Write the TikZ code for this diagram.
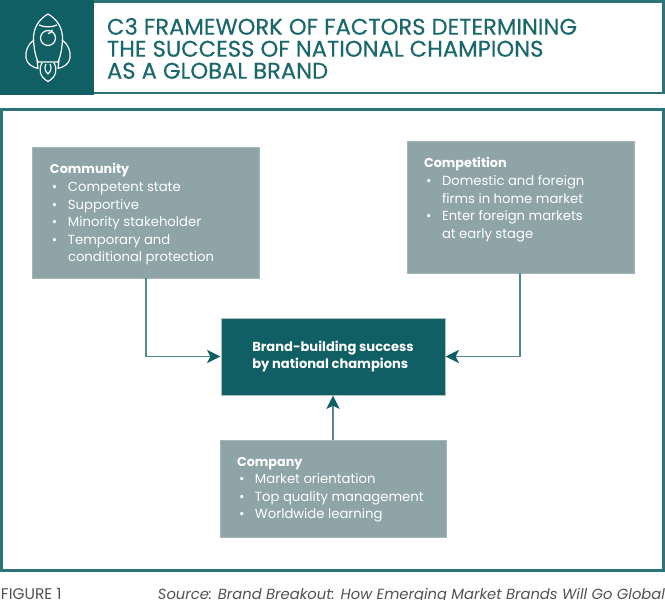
\documentclass[tikz,border=0pt]{standalone}
\usepackage{fontspec}
\setmainfont{Poppins}
\newfontfamily\titlefont[FakeBold=0.35]{Poppins}
\usetikzlibrary{arrows.meta}
\definecolor{teal1}{HTML}{0F5F64}
\definecolor{teal2}{HTML}{2B7478}
\definecolor{slate}{HTML}{8FA4A6}
\definecolor{arrowc}{HTML}{4F8A8D}
\definecolor{titlec}{HTML}{1A686C}
\newcommand{\hd}[1]{{\fontsize{9.6}{13.1}\selectfont\textbf{#1}}}
\tikzset{
  x=0.75pt,y=-0.75pt,
  every node/.style={outer sep=0pt},
  frame/.style={draw=teal2,line width=2.2pt,fill=white},
  panel/.style={fill=slate,draw=slate!80!white,line width=0.5pt},
  hub/.style={fill=teal1,draw=slate!70!white,line width=0.4pt},
  bodytxt/.style={anchor=north west,text=white,font=\fontsize{9.9}{13.1}\selectfont,align=left,inner sep=0pt},
  hubtxt/.style={anchor=center,text=white,font=\fontsize{9.8}{12.8}\selectfont\bfseries,align=left,inner sep=0pt},
  titletxt/.style={anchor=north west,text=titlec,font=\titlefont\fontsize{17}{16.5}\selectfont,align=left,inner sep=0pt},
  conn/.style={draw=arrowc,line width=1pt,-{Stealth[length=10pt,width=10pt,inset=2.5pt,color=teal1]},shorten >=0.5pt},
  icon/.style={draw=white,line width=0.9pt,line join=round},
  captxt/.style={inner sep=0pt,text=black!68}
}
\begin{document}
\begin{tikzpicture}
\useasboundingbox (0,0) rectangle (665,600);
\fill[white] (0,0) rectangle (665,600);
% header
\node[frame,inner sep=0pt,anchor=north west,minimum width=662*0.75pt,minimum height=91.5*0.75pt] (head) at (1.5,1.5) {};
\fill[teal1] (0,0) rectangle (94,95);
\node[titletxt] (title) at (107,18) {C3 FRAMEWORK OF FACTORS DETERMINING\\THE SUCCESS OF NATIONAL CHAMPIONS\\AS A GLOBAL BRAND};
% rocket
\draw[icon] (48,14) .. controls (39,19) and (33,28) .. (33.5,40) .. controls (34,48) and (35,55) .. (38,62) -- (58,62) .. controls (61,55) and (62,48) .. (62.5,40) .. controls (63,28) and (57,19) .. (48,14) -- cycle;
\draw[icon] (39,25) .. controls (44,27.5) and (52,27.5) .. (57,25);
\draw[icon] (48,38) circle (7.5);
\draw[icon] (48,33.5) arc (90:10:4.5);
\draw[icon] (34,40) .. controls (28,44) and (25,51) .. (26,58) .. controls (27,64) and (32,67) .. (38,68.5) -- (37,60);
\draw[icon] (62,40) .. controls (68,44) and (71,51) .. (70,58) .. controls (69,64) and (64,67) .. (58,68.5) -- (59,60);
\draw[icon] (42,63) .. controls (38,70) and (40,77) .. (48,81.5) .. controls (56,77) and (58,70) .. (54,63);
\draw[icon] (46,64) .. controls (44,68) and (45,71) .. (48,74) .. controls (51,71) and (52,68) .. (50,64);
% frame
\node[frame,anchor=north west,inner sep=0pt,minimum width=662*0.75pt,minimum height=461*0.75pt] (outer) at (1.5,109.5) {};
% boxes
\node[panel,anchor=north west,inner sep=0pt,minimum width=227*0.75pt,minimum height=131*0.75pt] (community) at (32,147) {};
\node[panel,anchor=north west,inner sep=0pt,minimum width=227*0.75pt,minimum height=132*0.75pt] (competition) at (407,141) {};
\node[panel,anchor=north west,inner sep=0pt,minimum width=226*0.75pt,minimum height=97*0.75pt] (company) at (220,440) {};
\node[hub,anchor=north west,inner sep=0pt,minimum width=224*0.75pt,minimum height=77*0.75pt] (hubbox) at (221,318) {};
% text
\node[bodytxt] (t1) at (50,163.5) {\hd{Community}\\[0.3pt]
\makebox[13.5pt][l]{\hspace{1.5pt}•}Competent state\\
\makebox[13.5pt][l]{\hspace{1.5pt}•}Supportive\\
\makebox[13.5pt][l]{\hspace{1.5pt}•}Minority stakeholder\\
\makebox[13.5pt][l]{\hspace{1.5pt}•}Temporary and\\
\makebox[13.5pt][l]{}conditional protection};
\node[bodytxt] (t2) at (424,157.5) {\hd{Competition}\\[0.3pt]
\makebox[13.5pt][l]{\hspace{1.5pt}•}Domestic and foreign\\
\makebox[13.5pt][l]{}firms in home market\\
\makebox[13.5pt][l]{\hspace{1.5pt}•}Enter foreign markets\\
\makebox[13.5pt][l]{}at early stage};
\node[bodytxt] (t3) at (237,457) {\hd{Company}\\[0.3pt]
\makebox[13.5pt][l]{\hspace{1.5pt}•}Market orientation\\
\makebox[13.5pt][l]{\hspace{1.5pt}•}Top quality management\\
\makebox[13.5pt][l]{\hspace{1.5pt}•}Worldwide learning};
\node[hubtxt] (t4) at (333,356.5) {Brand-building success\\by national champions};
% connectors
\coordinate (c1) at (146,278);
\coordinate (c2) at (520,273);
\draw[conn] (c1) |- (hubbox.west);
\draw[conn] (c2) |- (hubbox.east);
\draw[conn] (company.north -| hubbox.south) -- (hubbox.south);
% caption
\node[captxt,anchor=base west,font=\fontsize{11.6}{13}\selectfont] (fig) at (1,599) {FIGURE 1};
\node[captxt,anchor=base east,font=\fontsize{11.05}{13}\selectfont\itshape] (src) at (665,599) {Source: Brand Breakout: How Emerging Market Brands Will Go Global};
\end{tikzpicture}
\end{document}
